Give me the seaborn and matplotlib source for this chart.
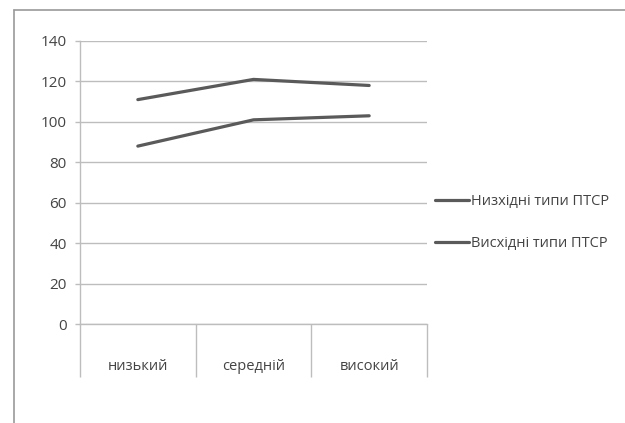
import matplotlib
matplotlib.use("Agg")
import matplotlib.pyplot as plt
from matplotlib.lines import Line2D
import seaborn as sns
import pandas as pd

categories = ["низький", "середній", "високий"]
series_names = ["Низхідні типи ПТСР", "Висхідні типи ПТСР"]
descending = [111, 121, 118]
ascending = [88, 101, 103]
y_ticks = [0, 20, 40, 60, 80, 100, 120, 140]

df = pd.DataFrame({
    "cat": categories * 2,
    "x": list(range(len(categories))) * 2,
    "value": descending + ascending,
    "series": [series_names[0]] * 3 + [series_names[1]] * 3,
})

sns.set_style("white")
plt.rcParams["font.family"] = ["Open Sans", "DejaVu Sans"]

W, H = 625, 423
fig = plt.figure(figsize=(W / 100, H / 100), dpi=100)
ax = fig.add_axes([80 / W, 1 - 324 / H, (427 - 80) / W, (324 - 41) / H])

line_col = "#5a5a5a"
grid_col = "#bdbdbd"
text_col = "#444444"

sns.lineplot(data=df, x="x", y="value", hue="series", palette=[line_col, line_col],
             linewidth=2.3, ax=ax, legend=False, sort=False)

ax.set_xlim(-0.5, 2.5)
ax.set_ylim(0, 140)
ax.set_yticks(y_ticks)
ax.set_yticklabels([str(v) for v in y_ticks])
ax.yaxis.grid(True, color=grid_col, linewidth=1.0)
ax.set_axisbelow(True)
ax.set_xlabel("")
ax.set_ylabel("")

ax.set_xticks(range(len(categories)))
ax.set_xticklabels(categories)
ax.set_xticks([-0.5, 0.5, 1.5, 2.5], minor=True)
ax.tick_params(axis="x", which="major", bottom=True, length=0, pad=25, labelsize=10.5,
               labelcolor=text_col)
ax.tick_params(axis="x", which="minor", bottom=True, length=38, width=1.0, color=grid_col,
               direction="out")
ax.tick_params(axis="y", which="major", left=True, length=3.5, width=1.0, color=grid_col,
               direction="out", pad=6, labelsize=11, labelcolor=text_col)

for s in ["top", "right"]:
    ax.spines[s].set_visible(False)
for s in ["left", "bottom"]:
    ax.spines[s].set_color(grid_col)
    ax.spines[s].set_linewidth(1.0)

handles = [Line2D([], [], color=line_col, linewidth=2.3) for _ in series_names]
fig.legend(handles, series_names, loc="upper left",
           bbox_to_anchor=(435 / W, 1 - 194 / H), bbox_transform=fig.transFigure,
           frameon=False, fontsize=10.5, labelcolor=text_col, handlelength=2.3,
           handletextpad=0.15, labelspacing=1.85, borderpad=0, borderaxespad=0)

frame_col = "#9a9a9a"
fig.add_artist(Line2D([14 / W, 14 / W], [0, 1 - 10 / H], transform=fig.transFigure,
                      color=frame_col, linewidth=1.2))
fig.add_artist(Line2D([14 / W, 1], [1 - 10 / H, 1 - 10 / H], transform=fig.transFigure,
                      color=frame_col, linewidth=1.2))

fig.savefig("out.png", dpi=100)
